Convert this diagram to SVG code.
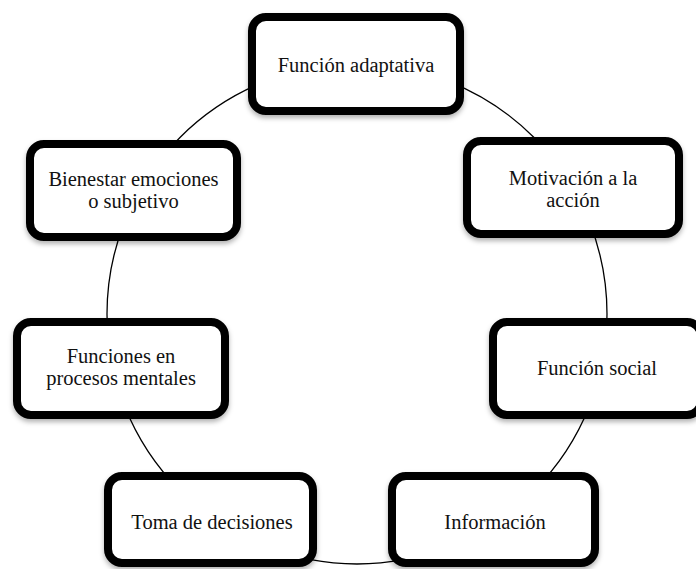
<svg xmlns="http://www.w3.org/2000/svg" width="696" height="569" viewBox="0 0 696 569">
<style>
.box{fill:#fff;stroke:#000;stroke-width:8;filter:url(#sh)}
.conn{fill:none;stroke:#000;stroke-width:1.3}
</style>
<defs>
<filter id="sh" x="-10%" y="-10%" width="120%" height="130%">
<feDropShadow dx="0" dy="3" stdDeviation="2.5" flood-color="#000" flood-opacity="0.3"/>
</filter>
</defs>
<rect width="696" height="569" fill="#fff"/>
<g id="connectors">
<circle class="conn" cx="357" cy="314" r="250"/>
</g>
<g font-family="Liberation Serif, DejaVu Serif, Times New Roman, serif" font-size="20.5" fill="#111" text-anchor="middle">
<g id="n1">
<rect class="box" x="252" y="17" width="208" height="94" rx="14"/>
<text x="356" y="72">Función adaptativa</text>
</g>
<g id="n2">
<rect class="box" x="467" y="141" width="212" height="93" rx="14"/>
<text x="573" y="185">Motivación a la</text>
<text x="573" y="207">acción</text>
</g>
<g id="n3">
<rect class="box" x="30" y="144" width="207" height="93" rx="14"/>
<text x="133.5" y="186">Bienestar emociones</text>
<text x="133.5" y="208">o subjetivo</text>
</g>
<g id="n4">
<rect class="box" x="17" y="322" width="208" height="93" rx="14"/>
<text x="121" y="363">Funciones en</text>
<text x="121" y="385">procesos mentales</text>
</g>
<g id="n5">
<rect class="box" x="493" y="322" width="208" height="93" rx="14"/>
<text x="597" y="375">Función social</text>
</g>
<g id="n6">
<rect class="box" x="108" y="476" width="205" height="87" rx="14"/>
<text x="212" y="529">Toma de decisiones</text>
</g>
<g id="n7">
<rect class="box" x="392" y="476" width="203" height="87" rx="14"/>
<text x="495" y="529">Información</text>
</g>
</g>
</svg>
